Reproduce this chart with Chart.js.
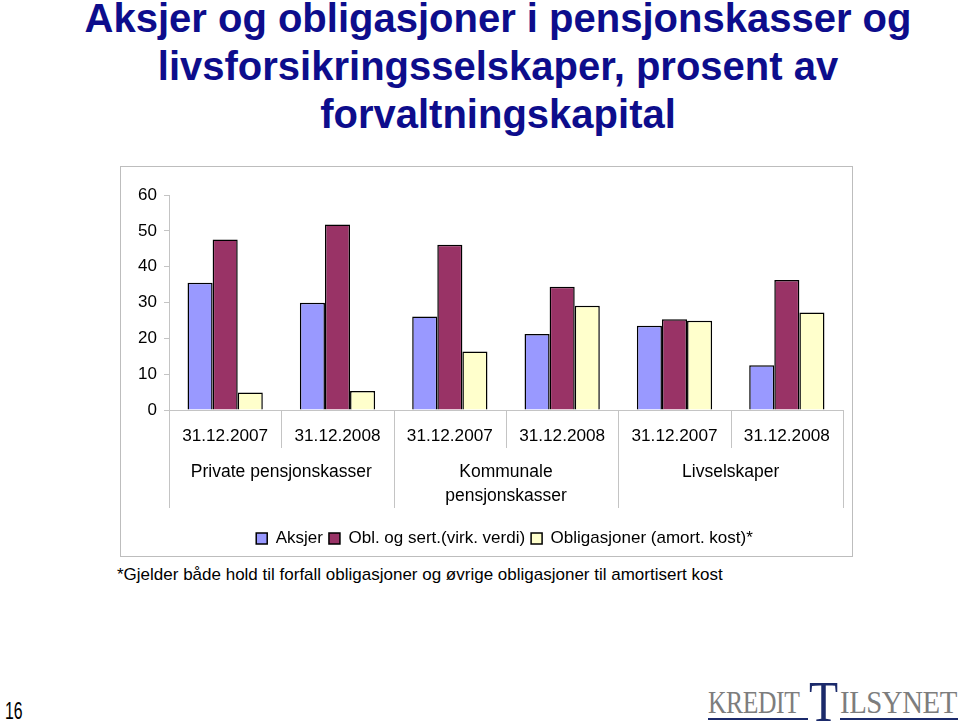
<!DOCTYPE html>
<html>
<head>
<meta charset="utf-8">
<script src="https://cdn.jsdelivr.net/npm/chart.js@4.4.1/dist/chart.umd.min.js"></script>
<style>
  html, body { margin: 0; padding: 0; background: #fff; }
  body { width: 960px; height: 724px; position: relative; overflow: hidden; font-family: "Liberation Sans", Arial, sans-serif; }
  .title { position: absolute; left: -2px; width: 1000px; text-align: center; color: #0d0d8c; font-weight: bold; font-size: 40px; white-space: nowrap; }
  #box { position: absolute; left: 120px; top: 166px; width: 731px; height: 389px; border: 1px solid #bdbdbd; }
  #wrap { position: absolute; left: 120px; top: 166px; width: 769px; height: 391px; }
  #foot { position: absolute; left: 117px; top: 565px; font-size: 17px; color: #000; white-space: nowrap; }
  #page { position: absolute; left: 5px; top: 697px; font-size: 24px; color: #000; transform: scaleX(0.66); transform-origin: left top; }
  #logo { position: absolute; left: 706px; top: 676px; width: 254px; height: 48px; font-family: "Liberation Serif", "Times New Roman", serif; }
  #logo .g { position: absolute; color: #7d7d7d; font-size: 32px; top: 8px; transform-origin: left top; letter-spacing: -0.5px; }
  #logo .t { position: absolute; color: #1b2a6b; font-size: 56px; left: 103px; top: -6px; transform: scaleX(0.85); transform-origin: left top; }
  #logo .u { position: absolute; height: 2px; background: #1b2a6b; top: 42px; }
</style>
</head>
<body>
<div class="title" style="top:-4px;">Aksjer og obligasjoner i pensjonskasser og</div>
<div class="title" style="top:44px;">livsforsikringsselskaper, prosent av</div>
<div class="title" style="top:92px;">forvaltningskapital</div>
<div id="box"></div>
<div id="wrap"><canvas id="c" width="769" height="391"></canvas></div>
<div id="foot">*Gjelder både hold til forfall obligasjoner og øvrige obligasjoner til amortisert kost</div>
<div id="page">16</div>
<div id="logo">
  <div class="g" style="left:2px; transform: scaleX(0.8);">KREDIT</div>
  <div class="t">T</div>
  <div class="g" style="left:134px; transform: scaleX(0.9);">ILSYNET</div>
  <div class="u" style="left:2px; width:100px;"></div>
  <div class="u" style="left:134px; width:118px;"></div>
</div>
<script>
const dates = ["31.12.2007", "31.12.2008", "31.12.2007", "31.12.2008", "31.12.2007", "31.12.2008"];
const groups = [["Private pensjonskasser"], ["Kommunale", "pensjonskasser"], ["Livselskaper"]];
const seriesNames = ["Aksjer", "Obl. og sert.(virk. verdi)", "Obligasjoner (amort. kost)*"];
const aksjer = [35.5, 29.9, 26.1, 21.2, 23.5, 12.5];
const oblVirk = [47.6, 51.8, 46.1, 34.4, 25.3, 36.3];
const oblAmort = [4.9, 5.3, 16.3, 29.1, 24.9, 27.2];
const yTicks = [0, 10, 20, 30, 40, 50, 60];
const colors = ["#9999ff", "#993366", "#ffffcc"];

const FONT = "'Liberation Sans', Arial, sans-serif";

const groupPlugin = {
  id: "groupPlugin",
  afterDraw(chart) {
    const ctx = chart.ctx;
    const x = chart.scales.x;
    const area = chart.chartArea;
    const n = dates.length;
    ctx.save();
    ctx.strokeStyle = "#c4c4c4";
    ctx.lineWidth = 1;
    for (let i = 0; i <= n; i++) {
      let px;
      if (i === 0) px = area.left;
      else if (i === n) px = area.right;
      else px = (x.getPixelForValue(i - 1) + x.getPixelForValue(i)) / 2;
      const len = (i % 2 === 0) ? 98 : 38;
      ctx.beginPath();
      ctx.moveTo(Math.round(px) + 0.5, area.bottom);
      ctx.lineTo(Math.round(px) + 0.5, area.bottom + len);
      ctx.stroke();
    }
    ctx.fillStyle = "#000";
    ctx.font = "17.5px " + FONT;
    ctx.textAlign = "center";
    ctx.textBaseline = "middle";
    groups.forEach((lines, g) => {
      const cx = (x.getPixelForValue(2 * g) + x.getPixelForValue(2 * g + 1)) / 2;
      lines.forEach((t, k) => ctx.fillText(t, cx, area.bottom + 62 + k * 24));
    });
    ctx.restore();
  }
};

new Chart(document.getElementById("c"), {
  type: "bar",
  data: {
    labels: dates,
    datasets: [
      { label: seriesNames[0], data: aksjer, backgroundColor: colors[0], borderColor: "#000", borderWidth: 1.5, yAxisID: "y" },
      { label: seriesNames[1], data: oblVirk, backgroundColor: colors[1], borderColor: "#000", borderWidth: 1.5, yAxisID: "y" },
      { label: seriesNames[2], data: oblAmort, backgroundColor: colors[2], borderColor: "#000", borderWidth: 1.5, yAxisID: "y" }
    ]
  },
  options: {
    responsive: false,
    animation: false,
    events: [],
    datasets: { bar: { categoryPercentage: 0.67, barPercentage: 1.0 } },
    layout: { padding: { left: 0, right: 0, top: 29, bottom: 0 } },
    plugins: {
      legend: {
        position: "bottom",
        labels: { boxWidth: 11, boxHeight: 11, padding: 6, color: "#000", font: { size: 17, family: FONT } }
      },
      tooltip: { enabled: false },
      title: { display: false }
    },
    scales: {
      x: {
        grid: { display: true, drawOnChartArea: false, drawTicks: false, color: "#c4c4c4" },
        border: { display: true, color: "#c4c4c4", width: 1 },
        ticks: { padding: 16, color: "#000", font: { size: 17.2, family: FONT }, maxRotation: 0, autoSkip: false },
        afterFit(scale) { scale.height = 114; }
      },
      y: {
        position: "left",
        min: 0, max: 60,
        afterBuildTicks(scale) { scale.ticks = yTicks.map(v => ({ value: v })); },
        grid: { display: true, drawOnChartArea: false, drawTicks: true, tickLength: 5, color: "#c4c4c4" },
        border: { display: true, color: "#c4c4c4", width: 1 },
        ticks: { padding: 7, color: "#000", font: { size: 17, family: FONT } },
        afterFit(scale) { scale.width = 49; }
      },
      yR: {
        position: "right",
        min: 0, max: 60,
        grid: { display: false },
        border: { display: false },
        ticks: { display: false },
        afterFit(scale) { scale.width = 46; }
      }
    }
  },
  plugins: [groupPlugin]
});
</script>
</body>
</html>
